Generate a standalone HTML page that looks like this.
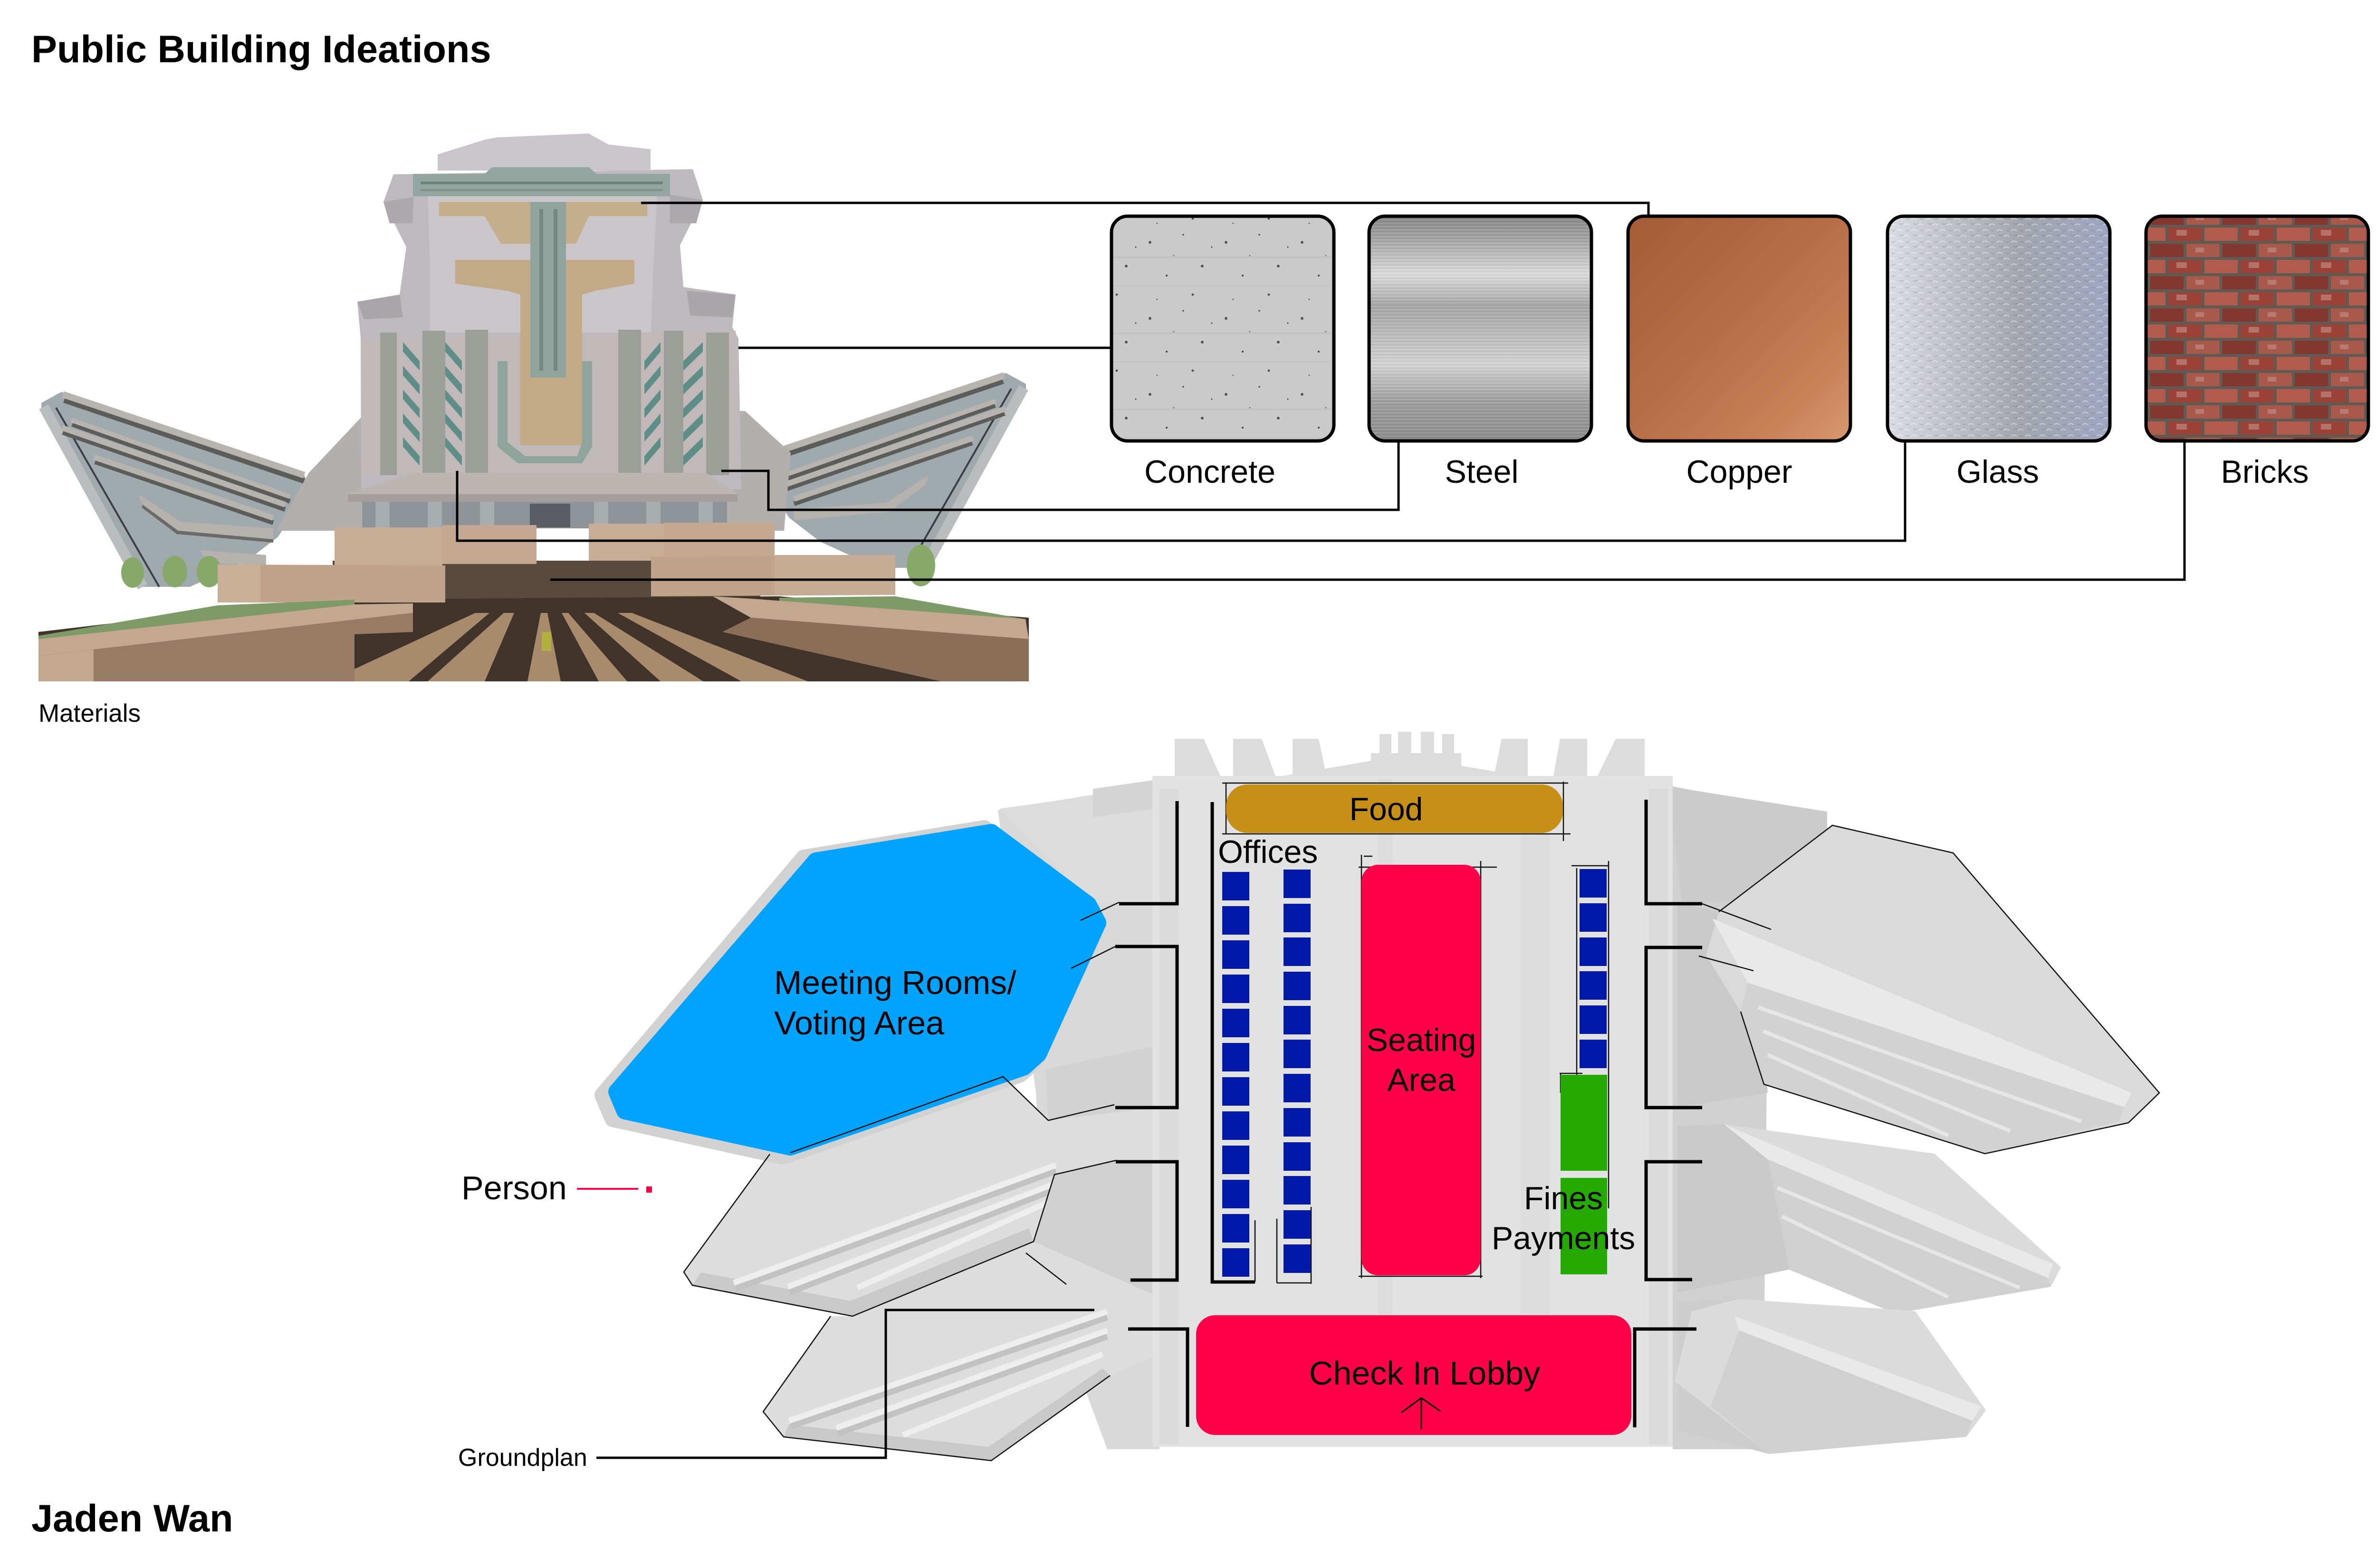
<!DOCTYPE html>
<html><head><meta charset="utf-8"><style>
html,body{margin:0;padding:0;background:#fff;}
svg{display:block;}
text{font-family:"Liberation Sans",Arial,sans-serif;fill:#000;}
</style></head><body>
<svg xmlns="http://www.w3.org/2000/svg" width="5100" height="3300" viewBox="0 0 5100 3300">
<defs>
  <pattern id="pc" width="160" height="160" patternUnits="userSpaceOnUse">
    <rect width="160" height="160" fill="#CACACA"/>
    <rect y="60" width="160" height="3" fill="#C0C0C0"/>
    <rect y="120" width="160" height="2" fill="#C4C4C4"/>
    <circle cx="20" cy="30" r="3" fill="#555"/><circle cx="90" cy="14" r="2" fill="#666"/>
    <circle cx="130" cy="80" r="3" fill="#555"/><circle cx="55" cy="100" r="2" fill="#444"/>
    <circle cx="110" cy="140" r="2.5" fill="#555"/><circle cx="35" cy="150" r="1.5" fill="#666"/>
    <circle cx="150" cy="40" r="1.5" fill="#444"/><circle cx="70" cy="58" r="1.5" fill="#777"/>
  </pattern>
  <linearGradient id="gs" x1="0" y1="0" x2="0" y2="1">
    <stop offset="0" stop-color="#858585"/><stop offset="0.12" stop-color="#A9A9A9"/>
    <stop offset="0.26" stop-color="#DADADA"/><stop offset="0.4" stop-color="#A5A5A5"/>
    <stop offset="0.52" stop-color="#B9B9B9"/><stop offset="0.66" stop-color="#D2D2D2"/>
    <stop offset="0.82" stop-color="#9F9F9F"/><stop offset="1" stop-color="#8A8A8A"/>
  </linearGradient>
  <pattern id="brush" width="40" height="7" patternUnits="userSpaceOnUse">
    <rect y="0" width="40" height="1.5" fill="#fff" opacity="0.18"/>
    <rect y="4" width="40" height="1" fill="#000" opacity="0.08"/>
  </pattern>
  <linearGradient id="gcu" x1="0" y1="0" x2="1" y2="1">
    <stop offset="0" stop-color="#A55B37"/><stop offset="0.45" stop-color="#B66C44"/>
    <stop offset="0.8" stop-color="#C98158"/><stop offset="1" stop-color="#D89A70"/>
  </linearGradient>
  <linearGradient id="ggl" x1="0" y1="0" x2="1" y2="0">
    <stop offset="0" stop-color="#D9DCE2"/><stop offset="0.35" stop-color="#B9BBC0"/>
    <stop offset="0.6" stop-color="#A3A6AD"/><stop offset="1" stop-color="#9FA6C2"/>
  </linearGradient>
  <pattern id="glt" width="30" height="24" patternUnits="userSpaceOnUse">
    <path d="M2 6 q6 -5 12 0 M16 18 q6 -5 12 0" stroke="#fff" stroke-width="2" fill="none" opacity="0.45"/>
    <path d="M6 14 q5 4 10 0 M20 4 q4 4 8 0" stroke="#555" stroke-width="1.5" fill="none" opacity="0.25"/>
  </pattern>
  <pattern id="pb" width="152" height="68" patternUnits="userSpaceOnUse">
    <rect width="152" height="68" fill="#5F5A52"/>
    <rect x="3" y="3" width="70" height="28" fill="#9C4238"/>
    <rect x="79" y="3" width="70" height="28" fill="#B25A4B"/>
    <rect x="-35" y="37" width="70" height="28" fill="#84372F"/>
    <rect x="41" y="37" width="70" height="28" fill="#A9584C"/>
    <rect x="117" y="37" width="70" height="28" fill="#84372F"/>
    <rect x="20" y="8" width="22" height="12" fill="#C8A39A" opacity="0.5"/>
    <rect x="60" y="45" width="18" height="10" fill="#D0B0A8" opacity="0.4"/>
  </pattern>
</defs>

<!-- ===== Titles ===== -->
<text x="66" y="131" font-size="81" font-weight="bold">Public Building Ideations</text>
<text x="81" y="1519" font-size="53">Materials</text>
<text x="66" y="3223" font-size="81" font-weight="bold">Jaden Wan</text>

<!-- ===== Building render ===== -->
<g id="render">
  <polygon points="87,848 129,825 640,998 650,1030 585,1130 520,1180 400,1235 292,1235 87,870" fill="#9FA9AE"/>
  <line x1="92" y1="856" x2="300" y2="1235" stroke="#B9BDBD" stroke-width="22"/>
  <line x1="118" y1="858" x2="335" y2="1235" stroke="#394045" stroke-width="4"/>
  <g>
    <line x1="135" y1="842" x2="640" y2="1012" stroke="#5C5C5A" stroke-width="12"/>
    <line x1="132" y1="830" x2="640" y2="1000" stroke="#B7B4AF" stroke-width="14"/>
    <line x1="152" y1="893" x2="610" y2="1055" stroke="#5C5C5A" stroke-width="10"/>
    <line x1="150" y1="884" x2="610" y2="1045" stroke="#B7B4AF" stroke-width="10"/>
    <line x1="132" y1="910" x2="600" y2="1072" stroke="#5C5C5A" stroke-width="10"/>
    <line x1="130" y1="900" x2="600" y2="1062" stroke="#B7B4AF" stroke-width="12"/>
    <line x1="200" y1="972" x2="575" y2="1100" stroke="#5C5C5A" stroke-width="10"/>
    <line x1="198" y1="962" x2="575" y2="1090" stroke="#B7B4AF" stroke-width="12"/>
  </g>
  <polygon points="292,1043 300,1062 375,1117 575,1135 575,1112 380,1098 300,1045" fill="#B5B2AE"/>
  <polygon points="300,1062 375,1117 575,1135 575,1142 372,1124 298,1068" fill="#6A6A68"/>
  <polygon points="420,1158 560,1168 560,1190 440,1185" fill="#B5B2AE"/>
  <g transform="translate(2246,-40) scale(-1,1)">
    <polygon points="87,848 129,825 640,998 650,1030 585,1130 520,1180 400,1235 292,1235 87,870" fill="#9FA9AE"/>
    <line x1="92" y1="856" x2="300" y2="1235" stroke="#B9BDBD" stroke-width="22"/>
    <line x1="118" y1="858" x2="335" y2="1235" stroke="#394045" stroke-width="4"/>
    <line x1="135" y1="842" x2="640" y2="1012" stroke="#5C5C5A" stroke-width="12"/>
    <line x1="132" y1="830" x2="640" y2="1000" stroke="#B7B4AF" stroke-width="14"/>
    <line x1="152" y1="893" x2="610" y2="1055" stroke="#5C5C5A" stroke-width="10"/>
    <line x1="150" y1="884" x2="610" y2="1045" stroke="#B7B4AF" stroke-width="10"/>
    <line x1="132" y1="910" x2="600" y2="1072" stroke="#5C5C5A" stroke-width="10"/>
    <line x1="130" y1="900" x2="600" y2="1062" stroke="#B7B4AF" stroke-width="12"/>
    <line x1="200" y1="972" x2="575" y2="1100" stroke="#5C5C5A" stroke-width="10"/>
    <line x1="198" y1="962" x2="575" y2="1090" stroke="#B7B4AF" stroke-width="12"/>
    <polygon points="292,1043 300,1062 375,1117 575,1135 575,1112 380,1098 300,1045" fill="#B5B2AE"/>
  </g>
  <g fill="#86A868">
    <ellipse cx="279" cy="1205" rx="24" ry="32"/>
    <ellipse cx="368" cy="1203" rx="26" ry="33"/>
    <ellipse cx="440" cy="1203" rx="26" ry="33"/>
    <ellipse cx="1938" cy="1190" rx="30" ry="44"/>
  </g>
  <polygon points="766,872 650,995 581,1117 1000,1117 900,860" fill="#B3AFAC"/>
  <polygon points="1568,865 1664,953 1650,1117 1300,1117 1400,860" fill="#B3AFAC"/>
  <polygon points="828,367 1458,356 1479,421 1431,516 1438,604 1548,620 1541,689 1554,712 1560,1030 760,1030 759,712 752,635 841,620 855,520 807,425" fill="#BEB9BE"/>
  <polygon points="921,359 921,325 1020,294 1047,289 1239,281 1280,304 1369,314 1369,359" fill="#C9C6CB"/>
  <polygon points="752,635 841,620 848,668 766,672" fill="#A9A5A8"/>
  <polygon points="1445,612 1548,620 1541,668 1452,664" fill="#A9A5A8"/>
  <polygon points="807,425 870,415 868,470 820,470" fill="#ACA8AB"/>
  <polygon points="1410,410 1479,421 1465,470 1410,470" fill="#ACA8AB"/>
  <polygon points="869,366 1020,366 1035,352 1240,352 1255,366 1410,366 1410,413 869,413" fill="#93A69F"/>
  <rect x="885" y="382" width="510" height="6" fill="#6F827C"/>
  <rect x="885" y="398" width="510" height="4" fill="#7D908A"/>
  <polygon points="900,413 1383,413 1375,560 1370,700 905,700 905,560" fill="#CAC5C9"/>
  <polygon points="924,425 1362,425 1362,455 1239,455 1212,513 1054,513 1020,455 924,455" fill="#C5AE8B"/>
  <polygon points="958,547 1335,547 1335,597 1253,612 1225,620 1225,937 1095,937 1095,620 1068,612 958,597" fill="#C2AA86"/>
  <polygon points="759,712 1548,696 1554,1000 766,1000" fill="#C0B8B9"/>
  <rect x="1095" y="700" width="130" height="237" fill="#C2AA86"/>
  <rect x="1116" y="425" width="75" height="370" fill="#8FA49D"/>
  <rect x="1135" y="440" width="8" height="340" fill="#728880"/>
  <rect x="1165" y="440" width="8" height="340" fill="#728880"/>
  <polygon points="1047,760 1068,760 1068,930 1105,960 1215,960 1225,930 1225,760 1246,760 1246,940 1225,975 1090,975 1047,940" fill="#8FA49D"/>
  <g fill="#9C9E98">
    <rect x="800" y="700" width="35" height="300"/><rect x="889" y="696" width="48" height="304"/>
    <rect x="979" y="694" width="48" height="306"/><rect x="1301" y="694" width="48" height="306"/>
    <rect x="1397" y="696" width="41" height="304"/><rect x="1486" y="700" width="48" height="300"/>
  </g>
  <g fill="#5F8E88">
    <polygon points="848,720 883,760 883,780 848,740"/><polygon points="848,770 883,810 883,830 848,790"/>
    <polygon points="848,820 883,860 883,880 848,840"/><polygon points="848,870 883,910 883,930 848,890"/>
    <polygon points="848,920 883,960 883,980 848,940"/>
    <polygon points="937,720 972,760 972,780 937,740"/><polygon points="937,770 972,810 972,830 937,790"/>
    <polygon points="937,820 972,860 972,880 937,840"/><polygon points="937,870 972,910 972,930 937,890"/>
    <polygon points="937,920 972,960 972,980 937,940"/>
    <polygon points="1390,720 1356,760 1356,780 1390,740"/><polygon points="1390,770 1356,810 1356,830 1390,790"/>
    <polygon points="1390,820 1356,860 1356,880 1390,840"/><polygon points="1390,870 1356,910 1356,930 1390,890"/>
    <polygon points="1390,920 1356,960 1356,980 1390,940"/>
    <polygon points="1479,720 1438,760 1438,780 1479,740"/><polygon points="1479,770 1438,810 1438,830 1479,790"/>
    <polygon points="1479,820 1438,860 1438,880 1479,840"/><polygon points="1479,870 1438,910 1438,930 1479,890"/>
    <polygon points="1479,920 1438,960 1438,980 1479,940"/>
  </g>
  <polygon points="869,995 1486,995 1552,1040 732,1040" fill="#BDB5B2"/>
  <rect x="732" y="1040" width="820" height="16" fill="#A39D9B"/>
  <rect x="762" y="1056" width="768" height="56" fill="#8E9497"/>
  <g fill="#A7ACAE">
    <rect x="790" y="1056" width="30" height="56"/><rect x="900" y="1056" width="30" height="56"/>
    <rect x="1010" y="1056" width="30" height="56"/><rect x="1250" y="1056" width="30" height="56"/>
    <rect x="1360" y="1056" width="30" height="56"/><rect x="1470" y="1056" width="30" height="56"/>
  </g>
  <rect x="1115" y="1060" width="85" height="50" fill="#5A5E62"/>
  <rect x="700" y="1180" width="900" height="100" fill="#5A4A3D"/>
  <polygon points="660,1262 1640,1255 2165,1300 2165,1434 81,1434 81,1330" fill="#3F332A"/>
  <g fill="#A88B6C">
    <polygon points="1000,1290 1030,1290 860,1434 690,1434"/>
    <polygon points="1060,1290 1082,1290 1020,1434 900,1434"/>
    <polygon points="1138,1290 1152,1290 1180,1434 1110,1434"/>
    <polygon points="1182,1290 1196,1290 1320,1434 1260,1434"/>
    <polygon points="1230,1290 1250,1290 1480,1434 1390,1434"/>
    <polygon points="1300,1290 1330,1290 1700,1434 1560,1434"/>
  </g>
  <rect x="1140" y="1330" width="20" height="40" fill="#B0B040"/>
  <rect x="704" y="1110" width="227" height="82" fill="#C7AC96"/>
  <rect x="931" y="1105" width="198" height="82" fill="#C4A891"/>
  <rect x="1239" y="1102" width="158" height="78" fill="#C7AC96"/>
  <rect x="1397" y="1100" width="233" height="82" fill="#C4A891"/>
  <polygon points="458,1188 937,1190 937,1268 458,1268" fill="#BFA38B"/>
  <rect x="458" y="1188" width="90" height="80" fill="#C9AE98"/>
  <polygon points="1370,1172 1884,1168 1884,1252 1370,1255" fill="#BFA38B"/>
  <rect x="1630" y="1168" width="254" height="84" fill="#C6AB95"/>
  <polygon points="81,1338 458,1274 746,1262 746,1272 81,1345" fill="#7E9A68"/>
  <polygon points="1640,1258 1884,1255 2158,1303 2158,1310 1640,1266" fill="#7E9A68"/>
  <polygon points="81,1345 746,1272 869,1270 869,1290 197,1367 81,1380" fill="#C3A78F"/>
  <polygon points="197,1367 869,1290 869,1330 746,1335 746,1434 197,1434" fill="#977B65"/>
  <polygon points="81,1380 197,1367 197,1434 81,1434" fill="#C3A78F"/>
  <polygon points="1500,1255 1582,1260 2158,1303 2165,1345 1580,1300" fill="#C3A78F"/>
  <polygon points="1580,1300 2165,1345 2165,1434 1980,1434 1520,1330" fill="#8A6E58"/>
</g>

<!-- ===== Material swatches ===== -->
<g stroke="#000" stroke-width="7">
  <rect x="2339" y="455" width="468" height="473" rx="34" fill="url(#pc)"/>
  <rect x="2881" y="455" width="468" height="473" rx="34" fill="url(#gs)"/>
  <rect x="3426" y="455" width="468" height="473" rx="34" fill="url(#gcu)"/>
  <rect x="3972" y="455" width="468" height="473" rx="34" fill="url(#ggl)"/>
  <rect x="4516" y="455" width="468" height="473" rx="34" fill="url(#pb)"/>
</g>
<rect x="2885" y="459" width="460" height="465" rx="30" fill="url(#brush)"/>
<rect x="3976" y="459" width="460" height="465" rx="30" fill="url(#glt)"/>
<g font-size="68" text-anchor="middle">
  <text x="2546" y="1016">Concrete</text>
  <text x="3118" y="1016">Steel</text>
  <text x="3660" y="1016">Copper</text>
  <text x="4204" y="1016">Glass</text>
  <text x="4766" y="1016">Bricks</text>
</g>

<g fill="none" stroke="#000" stroke-width="5">
  <polyline points="1349,427 3469,427 3469,455"/>
  <polyline points="1554,732 2339,732"/>
  <polyline points="1518,991 1617,991 1617,1073 2943,1073 2943,928"/>
  <polyline points="962,991 962,1138 4009,1138 4009,928"/>
  <polyline points="1158,1220 4597,1220 4597,928"/>
</g>

<!-- ===== Ground plan ===== -->
<g id="plan">
  <!-- background fills to close gaps -->
  <polygon points="2100,1705 2440,1650 2440,3050 2330,3050 2200,2700 2180,2300" fill="#D9D9D9"/>
  <polygon points="3520,1655 3700,1690 3720,2060 3710,3050 3520,3050" fill="#D0D0D0"/>
  <polygon points="2103,1702 2440,1655 2440,1900 2300,1900" fill="#DCDCDC"/>
  <polygon points="3510,1655 3845,1708 3845,1877 3540,1905" fill="#CBCBCB"/>
  <polygon points="2300,1660 2440,1640 2440,1700 2300,1720" fill="#D4D4D4"/>
  <polygon points="1661,2426 1620,2429 1439,2677 1457,2705 1794,2770 2175,2613 2219,2472 2349,2442 2440,2440 2440,2325 2345,2325 2206,2358 2111,2266" fill="#DDDDDD"/>
  <polygon points="1457,2705 1794,2770 2175,2613 2165,2585 1790,2738 1475,2678" fill="#C9C9C9"/>
  <g stroke-width="12">
    <line x1="1544" y1="2700" x2="2222" y2="2452" stroke="#EEEEEE"/>
    <line x1="1548" y1="2712" x2="2222" y2="2465" stroke="#C2C2C2"/>
    <line x1="1658" y1="2708" x2="2217" y2="2492" stroke="#EEEEEE"/>
    <line x1="1662" y1="2720" x2="2217" y2="2505" stroke="#C2C2C2"/>
    <line x1="1804" y1="2710" x2="2206" y2="2530" stroke="#EEEEEE"/>
  </g>
  <polygon points="1748,2770 1606,2971 1649,3024 2086,3074 2336,2895 2440,2850 2440,2730 2175,2613 1794,2770" fill="#DDDDDD"/>
  <polygon points="1649,3024 2086,3074 2336,2895 2320,2880 2080,3045 1660,2998" fill="#C9C9C9"/>
  <g stroke-width="12">
    <line x1="1660" y1="2990" x2="2330" y2="2760" stroke="#EEEEEE"/>
    <line x1="1664" y1="3002" x2="2330" y2="2773" stroke="#C2C2C2"/>
    <line x1="1760" y1="3005" x2="2330" y2="2800" stroke="#EEEEEE"/>
    <line x1="1764" y1="3017" x2="2330" y2="2813" stroke="#C2C2C2"/>
    <line x1="1900" y1="3020" x2="2320" y2="2850" stroke="#EEEEEE"/>
  </g>
  <polygon points="2200,2250 2440,2200 2440,2330 2206,2358" fill="#D2D2D2"/>
  <polygon points="2175,2613 2219,2472 2349,2442 2440,2445 2440,2730" fill="#D0D0D0"/>
  <polygon points="3530,1900 3617,1919 3700,2040 3720,2300 3530,2330" fill="#C9C9C9"/>
  <polygon points="3617,1919 3856,1737 4110,1795 4544,2300 4479,2363 4177,2428 3712,2282 3663,2129 3590,2010" fill="#DADADA"/>
  <polygon points="3603,1933 4486,2300 4470,2330 3678,2068" fill="#E9E9E9"/>
  <polygon points="3678,2068 4470,2330 4460,2360 4177,2428 3712,2282 3663,2129" fill="#D2D2D2"/>
  <g stroke="#E6E6E6" stroke-width="8">
    <line x1="3700" y1="2120" x2="4380" y2="2360"/>
    <line x1="3710" y1="2170" x2="4230" y2="2380"/>
    <line x1="3720" y1="2220" x2="4100" y2="2390"/>
  </g>
  <polygon points="3530,2370 3628,2366 3723,2438 3765,2672 3530,2720" fill="#C9C9C9"/>
  <polygon points="3628,2366 4071,2428 4337,2667 4316,2708 3988,2764 3765,2672 3723,2438" fill="#DBDBDB"/>
  <polygon points="3628,2366 4320,2660 4310,2690 3720,2440" fill="#E9E9E9"/>
  <polygon points="3720,2440 4310,2690 4316,2708 3988,2764 3765,2672" fill="#D0D0D0"/>
  <g stroke="#E6E6E6" stroke-width="8">
    <line x1="3740" y1="2500" x2="4250" y2="2710"/>
    <line x1="3750" y1="2560" x2="4100" y2="2730"/>
  </g>
  <polygon points="3530,2740 3657,2734 3700,2900 3723,3060 3530,3010" fill="#CDCDCD"/>
  <polygon points="3657,2734 4030,2759 4179,2968 4138,3024 3723,3060 3524,2907 3560,2760" fill="#DBDBDB"/>
  <polygon points="3650,2770 4170,2960 4150,2990 3660,2800" fill="#E9E9E9"/>
  <polygon points="3660,2800 4150,2990 4138,3024 3723,3060 3600,2960" fill="#D0D0D0"/>

  <rect x="2425" y="1633" width="1095" height="1412" fill="#E2E2E2"/>
  <rect x="2440" y="1660" width="40" height="1380" fill="#DADADA"/>
  <rect x="3470" y="1660" width="40" height="1380" fill="#DADADA"/>
  <rect x="3200" y="1660" width="60" height="1360" fill="#DDDDDD"/>
  <rect x="2900" y="1640" width="30" height="1380" fill="#DCDCDC"/>
  <g fill="#DCDCDC">
    <polygon points="2472,1555 2533,1555 2568,1633 2472,1633"/>
    <polygon points="2595,1555 2655,1555 2684,1633 2595,1633"/>
    <polygon points="2720,1555 2775,1555 2791,1633 2720,1633"/>
    <polygon points="2700,1633 2950,1590 3200,1633"/>
    <rect x="2885" y="1585" width="190" height="48"/>
    <rect x="2903" y="1545" width="25" height="88"/>
    <rect x="2942" y="1540" width="28" height="93"/>
    <rect x="2990" y="1540" width="28" height="93"/>
    <rect x="3035" y="1545" width="25" height="88"/>
    <polygon points="3160,1555 3215,1555 3215,1633 3144,1633"/>
    <polygon points="3283,1555 3340,1555 3340,1633 3269,1633"/>
    <polygon points="3400,1555 3461,1555 3461,1633 3362,1633"/>
  </g>

  <polygon points="1692,1806 2071,1744 2288,1904 2310,1947 2180,2229 2147,2260 1648,2433 1290,2354 1269,2305" fill="#D2D2D2" stroke="#D2D2D2" stroke-width="36" stroke-linejoin="round"/>
  <polygon points="1717,1812 2086,1752 2290,1904 2310,1942 2185,2218 2154,2246 1663,2414 1315,2338 1298,2298" fill="#00A3FF" stroke="#00A3FF" stroke-width="36" stroke-linejoin="round"/>

  <g fill="none" stroke="#111" stroke-width="2.5">
    <line x1="2274" y1="1937" x2="2355" y2="1899"/>
    <line x1="2254" y1="2038" x2="2347" y2="1992"/>
    <polyline points="1663,2426 2111,2266 2206,2358 2345,2325"/>
    <polyline points="1620,2429 1439,2677 1457,2705 1794,2770 2175,2613 2219,2472 2349,2442"/>
    <line x1="2159" y1="2637" x2="2244" y2="2703"/>
    <polyline points="1748,2770 1606,2971 1649,3024 2086,3074 2336,2895"/>
    <polyline points="3617,1919 3856,1737 4110,1795 4544,2300 4479,2363 4177,2428 3712,2282 3663,2129"/>
    <line x1="3582" y1="1902" x2="3727" y2="1956"/>
    <line x1="3575" y1="2012" x2="3690" y2="2043"/>
    <line x1="2572" y1="1648" x2="3300" y2="1648"/>
    <line x1="2572" y1="1755" x2="3305" y2="1755"/>
    <line x1="2580" y1="1648" x2="2580" y2="1755"/>
    <line x1="3290" y1="1645" x2="3290" y2="1770"/>
    <line x1="2859" y1="1825" x2="3150" y2="1825"/>
    <line x1="2859" y1="2686" x2="3120" y2="2686"/>
    <line x1="2865" y1="1799" x2="2865" y2="2690"/>
    <line x1="3116" y1="1812" x2="3116" y2="2690"/>
    <line x1="2870" y1="1802" x2="2888" y2="1802"/>
    <line x1="3385" y1="1812" x2="3385" y2="2543"/>
    <line x1="3307" y1="1822" x2="3385" y2="1822"/>
    <line x1="3318" y1="1827" x2="3318" y2="2267"/>
    <line x1="3282" y1="2259" x2="3330" y2="2259"/>
    <line x1="3284" y1="2260" x2="3284" y2="2300"/>
    <line x1="2641" y1="2568" x2="2641" y2="2698"/>
    <line x1="2687" y1="2565" x2="2687" y2="2700"/>
    <line x1="2687" y1="2700" x2="2759" y2="2700"/>
    <line x1="2759" y1="2540" x2="2759" y2="2702"/>
  </g>

  <g fill="none" stroke="#000" stroke-width="7">
    <polyline points="2355,1902 2477,1902 2477,1686"/>
    <polyline points="2347,1992 2477,1992 2477,2331 2347,2331"/>
    <polyline points="2348,2445 2477,2445 2477,2694 2379,2694"/>
    <polyline points="2374,2797 2499,2797 2499,3003"/>
    <polyline points="3464,1683 3464,1902 3582,1902"/>
    <polyline points="3582,1994 3464,1994 3464,2331 3582,2331"/>
    <polyline points="3582,2445 3464,2445 3464,2693 3561,2693"/>
    <polyline points="3570,2797 3440,2797 3440,3004"/>
    <polyline points="2551,1688 2551,2698 2641,2698"/>
  </g>

  <rect x="2580" y="1651" width="709" height="102" rx="45" fill="#C68F16"/>
  <text x="2917" y="1726" font-size="68" text-anchor="middle">Food</text>
  <text x="2563" y="1816" font-size="68">Offices</text>

  <g fill="#0019A8">
    <rect x="2572" y="1835" width="57" height="60"/><rect x="2572" y="1907" width="57" height="60"/>
    <rect x="2572" y="1979" width="57" height="60"/><rect x="2572" y="2051" width="57" height="60"/>
    <rect x="2572" y="2123" width="57" height="60"/><rect x="2572" y="2195" width="57" height="60"/>
    <rect x="2572" y="2267" width="57" height="60"/><rect x="2572" y="2339" width="57" height="60"/>
    <rect x="2572" y="2411" width="57" height="60"/><rect x="2572" y="2483" width="57" height="60"/>
    <rect x="2572" y="2555" width="57" height="60"/><rect x="2572" y="2627" width="57" height="60"/>
    <rect x="2701" y="1830" width="57" height="60"/><rect x="2701" y="1902" width="57" height="60"/>
    <rect x="2701" y="1973" width="57" height="60"/><rect x="2701" y="2045" width="57" height="60"/>
    <rect x="2701" y="2117" width="57" height="60"/><rect x="2701" y="2188" width="57" height="60"/>
    <rect x="2701" y="2260" width="57" height="60"/><rect x="2701" y="2332" width="57" height="60"/>
    <rect x="2701" y="2404" width="57" height="60"/><rect x="2701" y="2475" width="57" height="60"/>
    <rect x="2701" y="2547" width="57" height="60"/><rect x="2701" y="2619" width="57" height="60"/>
    <rect x="3324" y="1829" width="57" height="60"/><rect x="3324" y="1901" width="57" height="60"/>
    <rect x="3324" y="1973" width="57" height="60"/><rect x="3324" y="2044" width="57" height="60"/>
    <rect x="3324" y="2116" width="57" height="60"/><rect x="3324" y="2188" width="57" height="60"/>
  </g>

  <rect x="2865" y="1820" width="251" height="864" rx="35" fill="#FF0049"/>
  <text x="2991" y="2212" font-size="68" text-anchor="middle">Seating</text>
  <text x="2991" y="2296" font-size="68" text-anchor="middle">Area</text>

  <rect x="3284" y="2262" width="98" height="202" fill="#24AA00"/>
  <rect x="3284" y="2479" width="98" height="203" fill="#24AA00"/>
  <text x="3290" y="2545" font-size="68" text-anchor="middle">Fines</text>
  <text x="3290" y="2629" font-size="68" text-anchor="middle">Payments</text>

  <rect x="2517" y="2768" width="916" height="252" rx="40" fill="#FF0049"/>
  <text x="2998" y="2914" font-size="70" text-anchor="middle">Check In Lobby</text>
  <g fill="none" stroke="#000" stroke-width="3">
    <line x1="2991" y1="2944" x2="2991" y2="3008"/>
    <polyline points="2949,2973 2991,2942 3031,2970"/>
  </g>

  <text x="1629" y="2092" font-size="70">Meeting Rooms/</text>
  <text x="1629" y="2177" font-size="70">Voting Area</text>

  <text x="971" y="2524" font-size="70">Person</text>
  <line x1="1214" y1="2502" x2="1343" y2="2502" stroke="#FF0049" stroke-width="4"/>
  <rect x="1360" y="2497" width="12" height="13" fill="#FF0049"/>

  <text x="964" y="3085" font-size="52">Groundplan</text>
  <polyline points="1255,3068 1864,3068 1864,2757 2303,2757" fill="none" stroke="#000" stroke-width="5"/>
</g>
</svg>
</body></html>
